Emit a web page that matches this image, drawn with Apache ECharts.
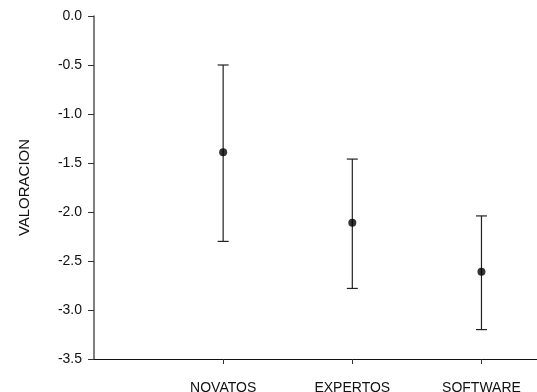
<!DOCTYPE html>
<html>
<head>
<meta charset="utf-8">
<script src="https://cdn.jsdelivr.net/npm/echarts@6/dist/echarts.min.js"></script>
<style>
  html, body { margin: 0; padding: 0; background: #fff; }
  #chart { width: 537px; height: 392px; }
</style>
</head>
<body>
<div id="chart"></div>
<script>
// Group names and their positions along the x axis
const categories = ['NOVATOS', 'EXPERTOS', 'SOFTWARE'];
const positions = [1, 2, 3];
// Mean rating per group and the ends of each error bar
const means = [-1.39, -2.11, -2.61];
const upper = [-0.50, -1.46, -2.04];
const lower = [-2.30, -2.78, -3.20];
// Y axis ticks
const yTicks = [0, -0.5, -1.0, -1.5, -2.0, -2.5, -3.0, -3.5];

const font = 'Liberation Sans, Arial, sans-serif';

const barData = positions.map((p, i) => [p, upper[i], lower[i]]);
const pointData = positions.map((p, i) => [p, means[i]]);

const chart = echarts.init(document.getElementById('chart'), null, { renderer: 'canvas' });
chart.setOption({
  animation: false,
  backgroundColor: '#fff',
  grid: { left: 94, right: 0, top: 16, bottom: 33, containLabel: false, outerBoundsMode: 'none' },
  xAxis: {
    type: 'value',
    min: 0,
    max: 3.43,
    interval: 1,
    splitLine: { show: false },
    axisLine: { show: true, onZero: false, lineStyle: { color: '#111', width: 1 } },
    axisTick: { show: true, length: 5, customValues: positions, lineStyle: { color: '#333' } },
    axisLabel: {
      customValues: positions,
      formatter: v => categories[positions.indexOf(Math.round(v))] || '',
      margin: 22,
      fontFamily: font,
      fontSize: 14,
      color: '#111'
    }
  },
  yAxis: {
    type: 'value',
    min: -3.5,
    max: 0,
    interval: 0.5,
    name: 'VALORACION',
    nameLocation: 'middle',
    nameRotate: 90,
    nameGap: 62,
    nameTextStyle: { fontFamily: font, fontSize: 15, color: '#111' },
    splitLine: { show: false },
    axisLine: { show: true, onZero: false, lineStyle: { color: '#555', width: 1.5 } },
    axisTick: { show: true, length: 6, lineStyle: { color: '#333' } },
    axisLabel: {
      customValues: yTicks,
      formatter: v => v.toFixed(1),
      margin: 12,
      fontFamily: font,
      fontSize: 14,
      color: '#111'
    }
  },
  series: [
    {
      type: 'custom',
      data: barData,
      encode: { x: 0, y: [1, 2] },
      renderItem: function (params, api) {
        const x = api.value(0);
        const top = api.coord([x, api.value(1)]);
        const bot = api.coord([x, api.value(2)]);
        const half = 5.5;
        const style = { stroke: '#222', lineWidth: 1.2 };
        return {
          type: 'group',
          children: [
            { type: 'line', shape: { x1: top[0], y1: top[1], x2: bot[0], y2: bot[1] }, style },
            { type: 'line', shape: { x1: top[0] - half, y1: top[1], x2: top[0] + half, y2: top[1] }, style },
            { type: 'line', shape: { x1: bot[0] - half, y1: bot[1], x2: bot[0] + half, y2: bot[1] }, style }
          ]
        };
      },
      z: 2
    },
    {
      type: 'scatter',
      data: pointData,
      symbol: 'circle',
      symbolSize: 8,
      itemStyle: { color: '#000' },
      z: 3
    }
  ]
});
</script>
</body>
</html>
